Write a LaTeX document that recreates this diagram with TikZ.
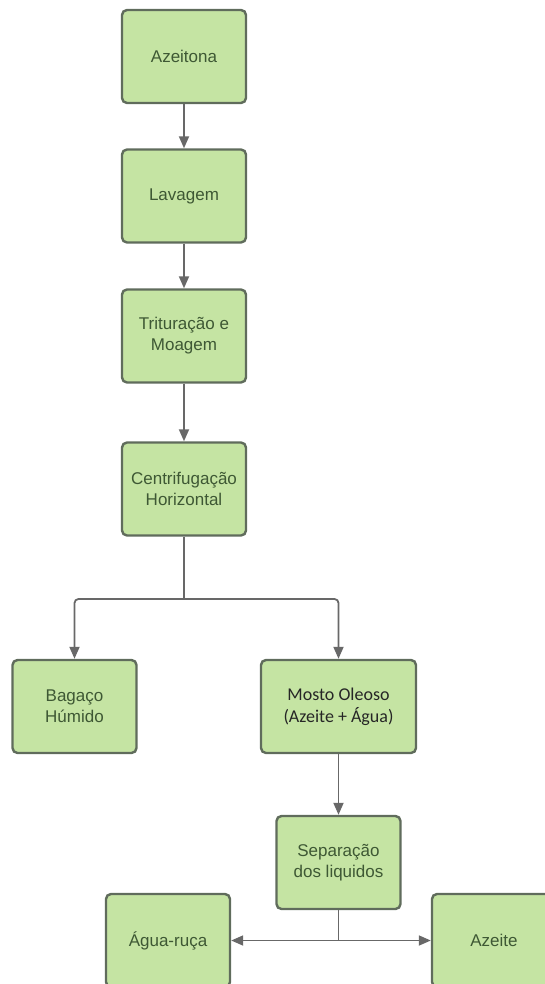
\documentclass[tikz,border=0pt]{standalone}
\usepackage{fontspec}
\setmainfont{Liberation Sans}
\newfontfamily\calibrifont{Carlito}
\usetikzlibrary{arrows.meta}
\definecolor{boxfill}{RGB}{197,228,163}
\definecolor{boxline}{RGB}{96,108,92}
\definecolor{boxtext}{RGB}{62,88,52}
\definecolor{flowgray}{RGB}{104,104,104}
\begin{document}
\begin{tikzpicture}[x=1pt,y=-1pt,
    stepbox/.style={draw=boxline,fill=boxfill,line width=2.4pt,rounded corners=5pt,
      minimum width=124pt,minimum height=93pt,align=center,text=boxtext,
      font=\fontsize{17}{21}\selectfont},
    flow/.style={draw=flowgray,line width=1.8pt,-{Triangle[length=12pt,width=10pt]}},
    plain/.style={draw=flowgray,line width=1.8pt}]
    \useasboundingbox (0,0) rectangle (545,984);
    \clip (0,0) rectangle (545,984);
    \node[stepbox] (azeitona) at (184,56.5) {Azeitona};
    \node[stepbox] (lavagem) at (184,196) {Lavagem};
    \node[stepbox] (trituracao) at (184,336) {Trituração e\\Moagem};
    \node[stepbox] (centrif) at (184,489) {Centrifugação\\Horizontal};
    \node[stepbox] (bagaco) at (74.5,706.5) {Bagaço\\Húmido};
    \node[stepbox,minimum width=155pt,text={black!85},font=\calibrifont\fontsize{18}{22}\selectfont]
      (mosto) at (338.5,706.5) {Mosto Oleoso\\(Azeite + Água)};
    \node[stepbox] (separacao) at (338.5,862.5) {Separação\\dos liquidos};
    \node[stepbox] (agua) at (168,940.5) {Água-ruça};
    \node[stepbox] (azeite) at (494,940.5) {Azeite};
    \coordinate (split) at (184,599); \coordinate (sepsplit) at (338.5,940.5);
    \draw[flow] (azeitona) -- (lavagem); \draw[flow] (lavagem) -- (trituracao);
    \draw[flow] (trituracao) -- (centrif);
    \draw[plain] (centrif) -- (split);
    \draw[flow,rounded corners=4pt] (split) -| (bagaco);
    \draw[flow,rounded corners=4pt] (split) -| (mosto);
    \draw[flow] (mosto) -- (separacao);
    \draw[plain] (separacao) -- (sepsplit);
    \draw[flow] (sepsplit) -- (agua); \draw[flow] (sepsplit) -- (azeite);
  \end{tikzpicture}
\end{document}
